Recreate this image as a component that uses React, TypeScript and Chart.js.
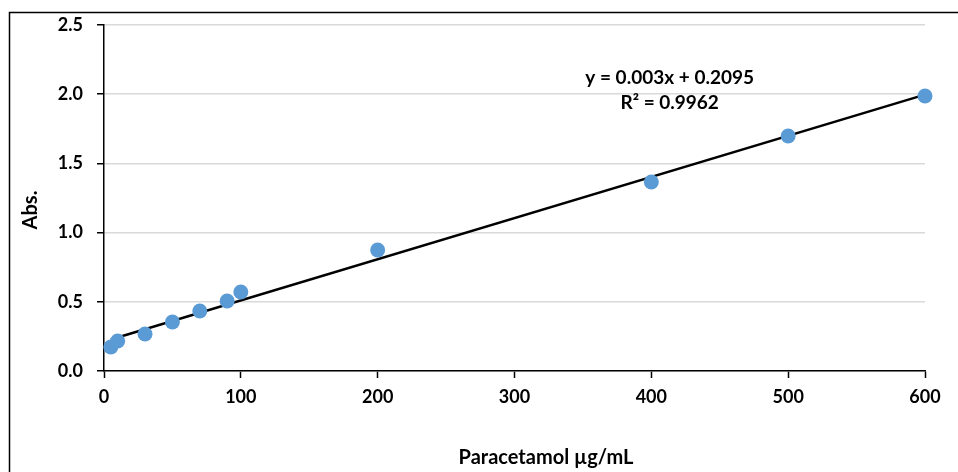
import React, { useEffect, useRef } from "react";
import { Chart, registerables } from "chart.js";

Chart.register(...registerables);

// Data
const concentrations = [5, 10, 30, 50, 70, 90, 100, 200, 400, 500, 600];
const absorbances = [0.173, 0.217, 0.267, 0.354, 0.434, 0.506, 0.571, 0.874, 1.366, 1.698, 1.987];
const xTickValues = [0, 100, 200, 300, 400, 500, 600];
const yTickValues = [0, 0.5, 1.0, 1.5, 2.0, 2.5];
const equationLabel = "y = 0.003x + 0.2095";
const rSquaredLabel = "R² = 0.9962";
const xAxisTitle = "Paracetamol µg/mL";
const yAxisTitle = "Abs.";

const FONT = "Lato";
const POINT_COLOR = "#5b9bd5";

function linearFit(xs: number[], ys: number[]) {
  const n = xs.length;
  const mx = xs.reduce((a, b) => a + b, 0) / n;
  const my = ys.reduce((a, b) => a + b, 0) / n;
  let sxy = 0;
  let sxx = 0;
  for (let i = 0; i < n; i++) {
    sxy += (xs[i] - mx) * (ys[i] - my);
    sxx += (xs[i] - mx) * (xs[i] - mx);
  }
  const slope = sxy / sxx;
  return { slope, intercept: my - slope * mx };
}

const overlayPlugin = {
  id: "overlay",
  beforeDraw(chart: any) {
    const ctx = chart.ctx;
    ctx.save();
    ctx.strokeStyle = "#000";
    ctx.lineWidth = 1.5;
    ctx.beginPath();
    ctx.moveTo(9.5, chart.height);
    ctx.lineTo(9.5, 12.5);
    ctx.lineTo(chart.width, 12.5);
    ctx.stroke();
    ctx.restore();
  },
  afterDraw(chart: any) {
    const ctx = chart.ctx;
    const area = chart.chartArea;
    ctx.save();
    ctx.fillStyle = "#000";
    ctx.textAlign = "center";
    ctx.textBaseline = "middle";
    ctx.font = `bold 19px ${FONT}`;
    const ex = area.left + (area.right - area.left) * 0.689;
    ctx.fillText(equationLabel, ex, 78);
    ctx.fillText(rSquaredLabel, ex, 103);
    // x title
    ctx.font = `bold 20px ${FONT}`;
    ctx.fillText(xAxisTitle, 546, 458);
    // y title
    ctx.translate(31, 210);
    ctx.rotate(-Math.PI / 2);
    ctx.fillText(yAxisTitle, 0, 0);
    ctx.restore();
  },
};

export default function App() {
  const canvasRef = useRef<HTMLCanvasElement | null>(null);

  useEffect(() => {
    if (!canvasRef.current) return;
    const fit = linearFit(concentrations, absorbances);
    const xMin = Math.min(...concentrations);
    const xMax = Math.max(...concentrations);
    const points = concentrations.map((x, i) => ({ x, y: absorbances[i] }));
    const trend = [
      { x: xMin, y: fit.slope * xMin + fit.intercept },
      { x: xMax, y: fit.slope * xMax + fit.intercept },
    ];

    const chart = new Chart(canvasRef.current, {
      type: "scatter",
      data: {
        datasets: [
          {
            type: "line",
            label: "Trend",
            data: trend,
            borderColor: "#000",
            borderWidth: 2.5,
            pointRadius: 0,
            fill: false,
            clip: false,
            order: 2,
          } as any,
          {
            label: "Abs.",
            data: points,
            backgroundColor: POINT_COLOR,
            borderColor: POINT_COLOR,
            borderWidth: 0,
            pointRadius: 7.5,
            clip: false,
            order: 1,
          } as any,
        ],
      },
      options: {
        responsive: false,
        animation: false,
        layout: { padding: { left: 0, right: 33, top: 25, bottom: 0 } },
        plugins: {
          legend: { display: false },
          tooltip: { enabled: false },
        },
        scales: {
          x: {
            type: "linear",
            min: 0,
            max: 600,
            afterBuildTicks: (scale: any) => {
              scale.ticks = xTickValues.map((v) => ({ value: v }));
            },
            afterFit: (scale: any) => {
              scale.height = 101;
            },
            grid: {
              drawOnChartArea: false,
              drawTicks: true,
              tickLength: 7,
              tickColor: "#000",
              tickWidth: 1.5,
            },
            border: { display: true, color: "#000", width: 1.5 },
            ticks: {
              color: "#000",
              font: { family: FONT, size: 18, weight: "bold" },
              padding: 8,
              maxRotation: 0,
              callback: (v: any) => String(v),
            },
          },
          y: {
            type: "linear",
            min: 0,
            max: 2.5,
            afterBuildTicks: (scale: any) => {
              scale.ticks = yTickValues.map((v) => ({ value: v }));
            },
            afterFit: (scale: any) => {
              scale.width = 104;
            },
            grid: {
              color: "#d9d9d9",
              lineWidth: 1.5,
              drawTicks: true,
              tickLength: 7,
              tickColor: "#000",
              tickWidth: 1.5,
            },
            border: { display: true, color: "#000", width: 1.5 },
            ticks: {
              color: "#000",
              font: { family: FONT, size: 18, weight: "bold" },
              padding: 14,
              callback: (v: any) => Number(v).toFixed(1),
            },
          },
        },
      },
      plugins: [overlayPlugin],
    });
    return () => chart.destroy();
  }, []);

  return (
    <div style={{ position: "absolute", left: 0, top: 0, width: 958, height: 472, background: "#fff" }}>
      <canvas ref={canvasRef} width={958} height={472} style={{ display: "block", width: 958, height: 472 }} />
    </div>
  );
}
